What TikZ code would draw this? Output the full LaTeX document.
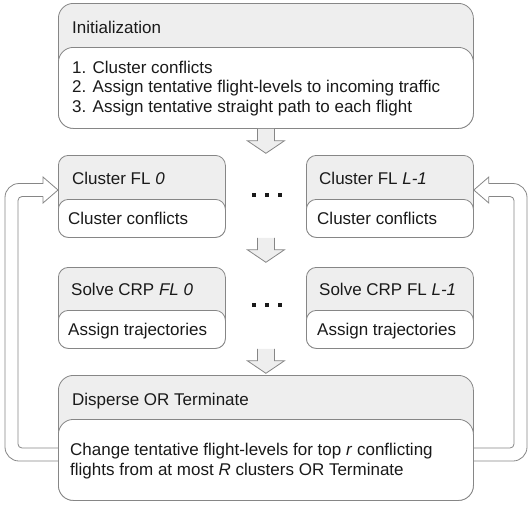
\documentclass[tikz,border=0pt]{standalone}
\usepackage{fontspec}
\setmainfont{Liberation Sans}
\usetikzlibrary{calc}
\definecolor{bordergray}{HTML}{868686}
\definecolor{hdrgray}{HTML}{EEEEEE}
\definecolor{txt}{HTML}{1A1A1A}
\begin{document}
\begin{tikzpicture}[x=1pt,y=-1pt,
  outerbox/.style={draw=bordergray, fill=hdrgray, line width=0.8pt, inner sep=0pt, anchor=north west},
  bodybox/.style={draw=bordergray, fill=white, line width=0.8pt, inner sep=0pt, anchor=north west},
  lbl/.style={anchor=base west, inner sep=0pt, text=txt, font=\fontsize{17}{19.5}\selectfont},
  blockarrow/.style={draw=bordergray, fill=hdrgray, line width=0.8pt, line join=miter},
  loopline/.style={draw=bordergray, line width=0.8pt},
  sqdot/.style={fill=txt, minimum size=4.5pt, inner sep=0pt}]
\useasboundingbox (0,0) rectangle (532,504);

% Initialization
\node[outerbox, rounded corners=15pt, minimum width=415pt, minimum height=125pt] (init) at (58,3) {};
\node[bodybox, rounded corners=15pt, minimum width=415pt, minimum height=81pt] (initbody) at (58,47) {};
\node[lbl] (inithdr) at (72,33) {Initialization};
\node[lbl] (initl1) at (72,73) {1. Cluster conflicts};
\node[lbl] (initl2) at (72,92.5) {2. Assign tentative flight-levels to incoming traffic};
\node[lbl] (initl3) at (72,112) {3. Assign tentative straight path to each flight};

% Cluster FL 0
\node[outerbox, rounded corners=10pt, minimum width=167pt, minimum height=82pt] (cl0) at (58,155) {};
\node[bodybox, rounded corners=10pt, minimum width=167pt, minimum height=38pt] (cl0body) at (58,199) {};
\node[lbl] (cl0hdr) at (72,184) {Cluster FL \textit{0}};
\node[lbl] (cl0txt) at (68,224) {Cluster conflicts};

% Cluster FL L-1
\node[outerbox, rounded corners=10pt, minimum width=167pt, minimum height=82pt] (clL) at (306,155) {};
\node[bodybox, rounded corners=10pt, minimum width=167pt, minimum height=38pt] (clLbody) at (306,199) {};
\node[lbl] (clLhdr) at (319,184) {Cluster FL \textit{L-1}};
\node[lbl] (clLtxt) at (317,224) {Cluster conflicts};

% Solve CRP FL 0
\node[outerbox, rounded corners=10pt, minimum width=167pt, minimum height=81pt] (sv0) at (58,267) {};
\node[bodybox, rounded corners=10pt, minimum width=167pt, minimum height=38pt] (sv0body) at (58,310) {};
\node[lbl] (sv0hdr) at (71,295) {Solve CRP \textit{FL 0}};
\node[lbl] (sv0txt) at (68,335) {Assign trajectories};

% Solve CRP FL L-1
\node[outerbox, rounded corners=10pt, minimum width=167pt, minimum height=81pt] (svL) at (306,267) {};
\node[bodybox, rounded corners=10pt, minimum width=167pt, minimum height=38pt] (svLbody) at (306,310) {};
\node[lbl] (svLhdr) at (319,295) {Solve CRP FL \textit{L-1}};
\node[lbl] (svLtxt) at (317,335) {Assign trajectories};

% Disperse OR Terminate
\node[outerbox, rounded corners=15pt, minimum width=415pt, minimum height=125pt] (disp) at (58,375) {};
\node[bodybox, rounded corners=15pt, minimum width=415pt, minimum height=81pt] (dispbody) at (58,419) {};
\node[lbl] (disphdr) at (72,405) {Disperse OR Terminate};
\node[lbl] (displ1) at (70,455) {Change tentative flight-levels for top \textit{r} conflicting};
\node[lbl] (displ2) at (70,475) {flights from at most \textit{R} clusters OR Terminate};

% dots
\foreach \i/\x in {1/254,2/267,3/280}{
  \node[sqdot] (dotA\i) at (\x,195) {};
  \node[sqdot] (dotB\i) at (\x,305) {};
}

% block arrows
\coordinate (a1) at (init.south);
\coordinate (a2) at ($(cl0.south east)!0.5!(clL.south west)$);
\coordinate (a3) at ($(sv0.south east)!0.5!(svL.south west)$);
\foreach \a in {a1,a2,a3}{
  \draw[blockarrow] ($(\a)+(-8.5,0)$) -- ($(\a)+(-8.5,12)$) -- ($(\a)+(-18.5,12)$)
    -- ($(\a)+(0,24.5)$) -- ($(\a)+(18.5,12)$) -- ($(\a)+(8.5,12)$) -- ($(\a)+(8.5,0)$);
}

% left feedback loop
\coordinate (lbIn) at ($(disp.north west)+(0,73)$);
\coordinate (lbOut) at ($(disp.north west)+(0,86)$);
\coordinate (ltip) at ($(cl0.north west)+(0,35)$);
\draw[loopline, rounded corners=14pt] (lbOut) -- (5,461) -- (5,183.5) -- ($(ltip)+(-15,-6.5)$);
\draw[loopline, line join=miter] ($(ltip)+(-15,-6.5)$) -- ($(ltip)+(-15,-13)$) -- (ltip)
   -- ($(ltip)+(-15,13)$) -- ($(ltip)+(-15,6.5)$);
\draw[loopline, rounded corners=4pt] ($(ltip)+(-15,6.5)$) -- (18,196.5) -- (18,448) -- (lbIn);

% right feedback loop
\coordinate (rbIn) at ($(disp.north east)+(0,73)$);
\coordinate (rbOut) at ($(disp.north east)+(0,86)$);
\coordinate (rtip) at ($(clL.north east)+(0,35)$);
\draw[loopline, rounded corners=14pt] (rbOut) -- (527,461) -- (527,183.5) -- ($(rtip)+(15,-6.5)$);
\draw[loopline, line join=miter] ($(rtip)+(15,-6.5)$) -- ($(rtip)+(15,-13)$) -- (rtip)
   -- ($(rtip)+(15,13)$) -- ($(rtip)+(15,6.5)$);
\draw[loopline, rounded corners=4pt] ($(rtip)+(15,6.5)$) -- (514,196.5) -- (514,448) -- (rbIn);
\end{tikzpicture}
\end{document}
